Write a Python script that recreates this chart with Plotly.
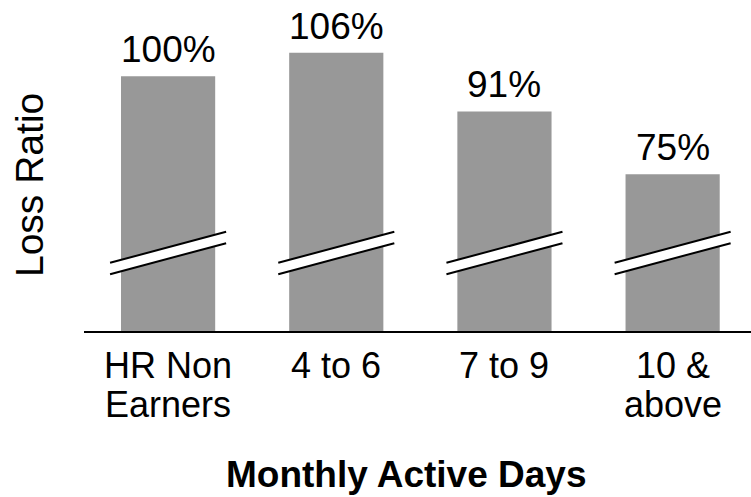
import plotly.graph_objects as go

# ---- data ----
categories = ["HR Non Earners", "4 to 6", "7 to 9", "10 & above"]
tick_lines = [["HR Non", "Earners"], ["4 to 6"], ["7 to 9"], ["10 &", "above"]]
values = [100, 106, 91, 75]
value_labels = ["100%", "106%", "91%", "75%"]

# axis break (broken y axis) level in data units
y_min = 35
px_per_unit = 3.92
break_mid = 54.9
break_gap = 2.9
break_rise = 7.9
break_half = 0.345

FONT = "Liberation Sans, Arial, Helvetica, sans-serif"
BAR_COLOR = "#989898"

x_idx = list(range(len(categories)))

fig = go.Figure()
fig.add_trace(go.Bar(
    x=x_idx, y=values, width=0.56,
    marker=dict(color=BAR_COLOR, line=dict(width=0)),
    hoverinfo="skip",
))

shapes = []
annotations = []
for i, v in enumerate(values):
    lo = break_mid - break_gap / 2
    hi = break_mid + break_gap / 2
    x0, x1 = i - break_half, i + break_half
    y0l, y1l = lo - break_rise / 2, lo + break_rise / 2
    y0h, y1h = hi - break_rise / 2, hi + break_rise / 2
    shapes.append(dict(type="path", xref="x", yref="y",
                       path=f"M {x0} {y0l} L {x1} {y1l} L {x1} {y1h} L {x0} {y0h} Z",
                       fillcolor="white", line=dict(width=0), layer="above"))
    shapes.append(dict(type="line", xref="x", yref="y", x0=x0, y0=y0l, x1=x1, y1=y1l,
                       line=dict(color="black", width=2), layer="above"))
    shapes.append(dict(type="line", xref="x", yref="y", x0=x0, y0=y0h, x1=x1, y1=y1h,
                       line=dict(color="black", width=2), layer="above"))
    annotations.append(dict(x=i, y=v, xref="x", yref="y", text=value_labels[i],
                            showarrow=False, yanchor="bottom", xanchor="center", yshift=4,
                            font=dict(family=FONT, size=37, color="black")))
    for k, line in enumerate(tick_lines[i]):
        annotations.append(dict(x=i, y=y_min, xref="x", yref="y", text=line,
                                showarrow=False, yanchor="top", xanchor="center",
                                yshift=-12 - 38.5 * k,
                                font=dict(family=FONT, size=36, color="black")))

annotations.append(dict(x=0.484, y=y_min, xref="paper", yref="y", text="<b>Monthly Active Days</b>",
                        showarrow=False, yanchor="top", xanchor="center", yshift=-121,
                        font=dict(family=FONT, size=37, color="black")))
annotations.append(dict(x=0, y=0.441, xref="paper", yref="paper", text="Loss Ratio",
                        showarrow=False, textangle=-90, xanchor="center", yanchor="middle",
                        xshift=-55, font=dict(family=FONT, size=39, color="black")))

plot_h = 331
fig.update_layout(
    width=751, height=497,
    margin=dict(l=84, r=0, t=0, b=497 - plot_h),
    paper_bgcolor="white", plot_bgcolor="white",
    showlegend=False,
    shapes=shapes, annotations=annotations,
    xaxis=dict(range=[-0.5, 3.466], showticklabels=False, showgrid=False, zeroline=False,
               showline=True, linecolor="black", linewidth=2, ticks="", fixedrange=True),
    yaxis=dict(range=[y_min, y_min + plot_h / px_per_unit], showticklabels=False,
               showgrid=False, zeroline=False, showline=False, ticks="", fixedrange=True),
)
fig.write_html("out.html", config={"displayModeBar": False},
               post_script="document.body.style.margin='0';document.body.style.overflow='hidden';")
